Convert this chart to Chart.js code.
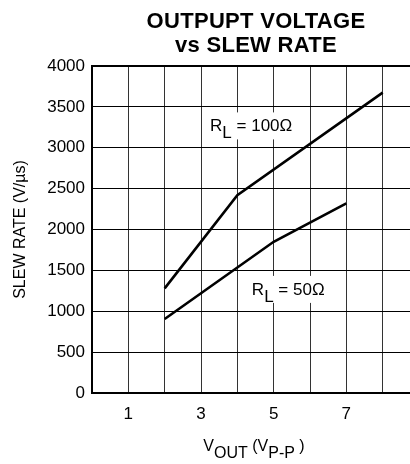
<!DOCTYPE html>
<html>
<head>
<meta charset="utf-8">
<script src="https://cdn.jsdelivr.net/npm/chart.js@4"></script>
<style>
  html, body { margin: 0; padding: 0; background: #fff; overflow: hidden; }
  #wrap { width: 430px; height: 464px; }
</style>
</head>
<body>
<div id="wrap"><canvas id="slew" width="430" height="464"></canvas></div>
<script>
// V out (Vp-p) / slew rate (V/us)
const vout100 = [2, 4, 8];
const slew100 = [1280, 2420, 3675];
const vout50 = [2, 5, 7];
const slew50 = [905, 1850, 2320];
const xTickLabels = [1, 3, 5, 7];
const titleLines = ["OUTPUPT VOLTAGE", "vs SLEW RATE"];

const FONT = "'Liberation Sans', Arial, Helvetica, sans-serif";
Chart.defaults.font.family = FONT;
Chart.defaults.color = "#000";

function pts(xs, ys) {
  return xs.map((x, i) => ({ x: x, y: ys[i] }));
}

// draws text with a subscript part, returns end x
function subText(ctx, parts, x, y, drop) {
  parts.forEach(p => {
    ctx.fillText(p[0], x, y + (p[1] ? drop : 0));
    x += ctx.measureText(p[0]).width;
  });
  return x;
}
function partsWidth(ctx, parts) {
  return parts.reduce((w, p) => w + ctx.measureText(p[0]).width, 0);
}

const extras = {
  id: "extras",
  beforeDatasetsDraw(chart) {
    const ctx = chart.ctx, xs = chart.scales.x, ys = chart.scales.y;
    ctx.save();
    ctx.font = "17px " + FONT;
    ctx.textBaseline = "alphabetic";
    const labels = [
      { x: 3.25, y: 3200, parts: [["R"], ["L", 1], [" = 100\u03A9"]] },
      { x: 4.4, y: 1200, parts: [["R"], ["L", 1], [" = 50\u03A9"]] }
    ];
    labels.forEach(l => {
      const px = xs.getPixelForValue(l.x), py = ys.getPixelForValue(l.y);
      const w = partsWidth(ctx, l.parts);
      ctx.fillStyle = "#fff";
      ctx.fillRect(px - 5, py - 19, w + 9, 27);
      ctx.fillStyle = "#000";
      subText(ctx, l.parts, px, py, 7);
    });
    ctx.restore();
  },
  afterDraw(chart) {
    const ctx = chart.ctx;
    ctx.save();
    ctx.fillStyle = "#000";
    ctx.textAlign = "center";
    ctx.font = "bold 22px " + FONT;
    ctx.letterSpacing = "0.3px";
    const cx = 256;
    ctx.fillText(titleLines[0], cx, 28);
    ctx.fillText(titleLines[1], cx, 52);
    ctx.letterSpacing = "0px";
    // x axis title with subscripts
    ctx.textAlign = "left";
    ctx.font = "16px " + FONT;
    const xt = [["V"], ["OUT", 1], [" (V"], ["P-P", 1], [" )"]];
    const w = partsWidth(ctx, xt);
    subText(ctx, xt, 254 - w / 2, 451, 6.5);
    ctx.restore();
  }
};

new Chart(document.getElementById("slew"), {
  type: "line",
  data: {
    datasets: [{
      label: "RL = 100",
      data: pts(vout100, slew100),
      borderColor: "#000",
      borderWidth: 2.6,
      pointRadius: 0,
      fill: false
    }, {
      label: "RL = 50",
      data: pts(vout50, slew50),
      borderColor: "#000",
      borderWidth: 2.6,
      pointRadius: 0,
      fill: false
    }]
  },
  options: {
    responsive: false,
    animation: false,
    layout: { padding: { top: 66, right: 11, left: 0, bottom: 0 } },
    plugins: {
      legend: { display: false },
      tooltip: { enabled: false },
      title: { display: false }
    },
    scales: {
      x: {
        type: "linear",
        min: 0,
        max: 9,
        afterFit: s => { s.height = 71; },
        border: { color: "#000", width: 2 },
        grid: { color: "#333", lineWidth: 1, drawTicks: false },
        ticks: {
          stepSize: 1,
          padding: 11,
          font: { size: 17 },
          callback: v => xTickLabels.includes(v) ? String(v) : ""
        }
      },
      y: {
        min: 0,
        max: 4000,
        afterFit: s => { s.width = 92; },
        border: { color: "#000", width: 2 },
        grid: {
          color: "#000",
          lineWidth: c => (c.tick && c.tick.value === 4000 ? 2 : 1),
          drawTicks: false
        },
        ticks: { stepSize: 500, padding: 7, font: { size: 17 }, callback: v => String(v) },
        title: {
          display: true,
          text: "SLEW RATE (V/\u00B5s)",
          font: { size: 16 },
          padding: { top: 11, bottom: 0 }
        }
      }
    }
  },
  plugins: [extras]
});
</script>
</body>
</html>
